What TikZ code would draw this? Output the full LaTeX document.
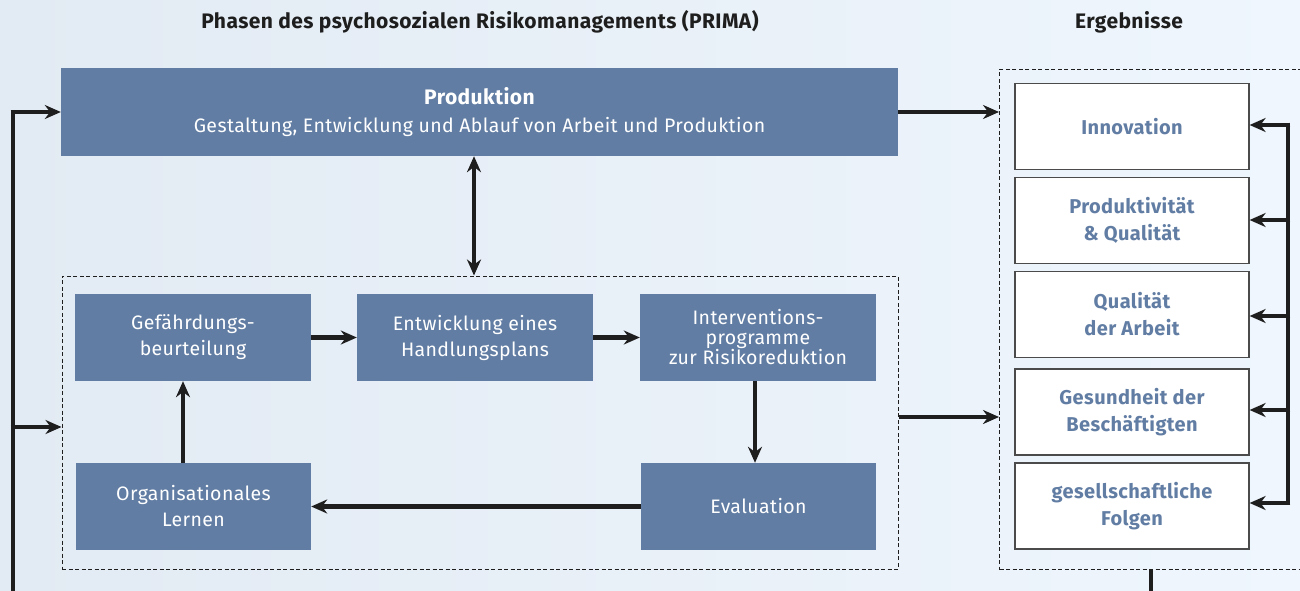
\documentclass[tikz,border=0pt]{standalone}
\usepackage{fontspec}
\setmainfont{Fira Sans}[LetterSpace=2]
\usetikzlibrary{arrows.meta,calc}
\definecolor{boxblue}{RGB}{97,125,163}
\definecolor{bgL}{RGB}{226,234,243}
\definecolor{bgR}{RGB}{239,246,253}
\definecolor{arr}{RGB}{30,30,30}
\tikzset{
  pbox/.style={draw=none,fill=boxblue,text=white,align=center,inner sep=0pt,font=\fontsize{19.5}{26}\selectfont},
  rbox/.style={draw=arr!80,line width=1.2pt,fill=white,text=boxblue,align=center,inner sep=0pt,
     minimum width=234pt,minimum height=86pt,font=\fontseries{sb}\fontsize{20}{27}\selectfont},
  dbox/.style={draw=arr,line width=1pt,dash pattern=on 4pt off 2.5pt},
  conn/.style={draw=arr,line width=4.6pt,-{Stealth[length=16pt,width=14pt]}},
  conn2/.style={draw=arr,line width=4.6pt,{Stealth[length=16pt,width=14pt]}-{Stealth[length=16pt,width=14pt]}},
  line/.style={draw=arr,line width=4.6pt},
  hd/.style={font=\fontseries{sb}\fontsize{21}{21}\selectfont,text=arr}
}
\begin{document}
\begin{tikzpicture}[x=1pt,y=-1pt]
\useasboundingbox (0,0) rectangle (1300,591);
\shade[left color=bgL,right color=bgR] (0,0) rectangle (1300,591);
\begin{scope}
\clip (0,0) rectangle (1300,591);
% headings
\node[hd] (h1) at (480,22) {Phasen des psychosozialen Risikomanagements (PRIMA)};
\node[hd] (h2) at (1129,22) {Ergebnisse};
% production
\node[pbox,minimum width=837pt,minimum height=88pt,font=\fontsize{19.5}{28}\selectfont] (prod) at (479.5,112)
  {{\fontseries{sb}\fontsize{21}{28}\selectfont Produktion}\\Gestaltung, Entwicklung und Ablauf von Arbeit und Produktion};
% phases dashed box
\node[dbox,minimum width=836pt,minimum height=293pt,inner sep=0pt] (phases) at (480,422.5) {};
\node[pbox,minimum width=236pt,minimum height=87pt] (gef) at (193,337.5) {Gefährdungs-\\beurteilung};
\node[pbox,minimum width=236pt,minimum height=87pt] (ent) at (475,337.5) {Entwicklung eines\\Handlungsplans};
\node[pbox,minimum width=236pt,minimum height=87pt,font=\fontsize{19.5}{20}\selectfont] (int) at (758,337.5) {Interventions-\\programme\\zur Risikoreduktion};
\node[pbox,minimum width=235pt,minimum height=87pt] (eva) at (758.5,506.5) {Evaluation};
\node[pbox,minimum width=235pt,minimum height=87pt] (org) at (193.5,506.5) {Organisationales\\Lernen};
% results dashed box
\node[dbox,minimum width=340pt,minimum height=500pt,inner sep=0pt,anchor=north west] (res) at (999,69) {};
\node[rbox] (r1) at (1132,126.5) {Innovation};
\node[rbox] (r2) at (1132,220.5) {Produktivität\\\& Qualität};
\node[rbox] (r3) at (1132,314.5) {Qualität\\der Arbeit};
\node[rbox] (r4) at (1132,412) {Gesundheit der\\Beschäftigten};
\node[rbox] (r5) at (1132,506) {gesellschaftliche\\Folgen};
% connectors
\draw[conn2] (prod.south -| 474,0) -- (phases.north -| 474,0);
\draw[conn] (gef.east) -- (ent.west);
\draw[conn] (ent.east) -- (int.west);
\draw[conn] (int.south -| 755,0) -- (eva.north -| 755,0);
\draw[conn] (eva.west) -- (org.east);
\draw[conn] (org.north -| 183,0) -- (gef.south -| 183,0);
\draw[conn] (prod.east) -- (res.west |- prod.east);
\draw[conn] (phases.east |- 0,417) -- (res.west |- 0,417);
% left feedback
\coordinate (lb) at (13,600);
\draw[line] (lb) -- (13,109.7);
\draw[conn] (10.7,112) -- (prod.west);
\draw[conn] (10.7,427) -- (phases.west |- 0,427);
% right feedback
\draw[line] (1288,122.7) -- (1288,505.3);
\draw[conn] (1290.3,125) -- (r1.east |- 0,125);
\draw[conn] (1290.3,220) -- (r2.east |- 0,220);
\draw[conn] (1290.3,316) -- (r3.east |- 0,316);
\draw[conn] (1290.3,410) -- (r4.east |- 0,410);
\draw[conn] (1290.3,503) -- (r5.east |- 0,503);
% bottom line
\draw[line] (res.south -| 1151,0) -- (1151,600);
\end{scope}
\end{tikzpicture}
\end{document}
